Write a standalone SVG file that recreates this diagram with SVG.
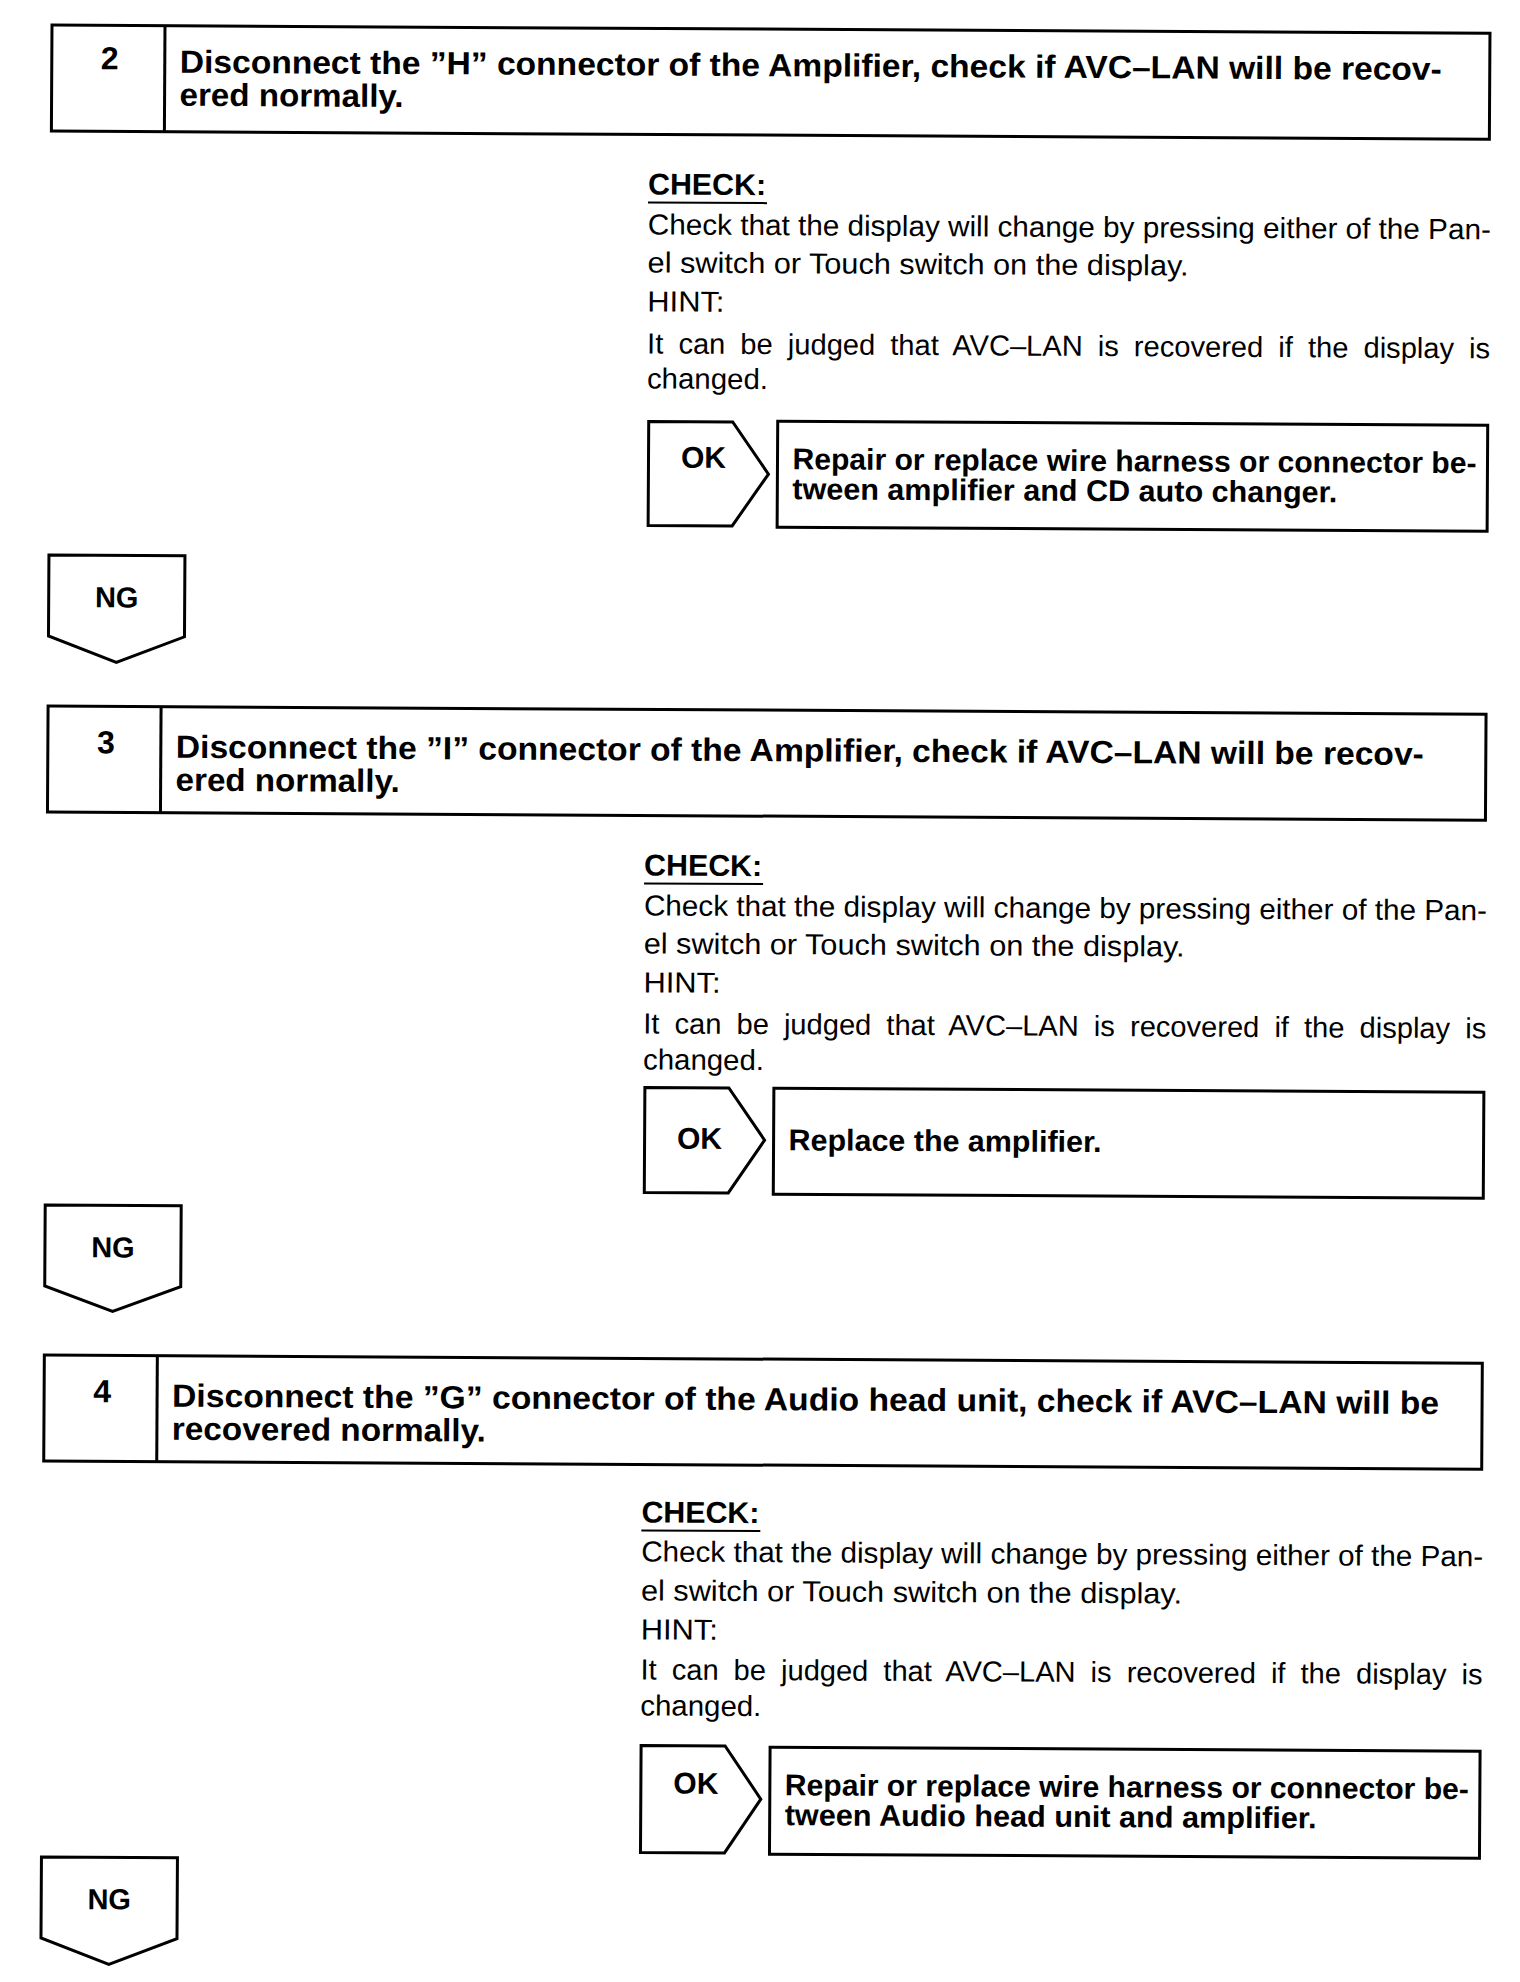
<svg xmlns="http://www.w3.org/2000/svg" width="1520" height="1982" viewBox="0 0 1520 1982">
<style>
.bg{fill:#fff}
.sh{fill:#fff;stroke:#000;stroke-width:3;stroke-linejoin:miter}
.ln{stroke:#000;stroke-width:3}
.ul{stroke:#000;stroke-width:2}
.b{font-family:"Liberation Sans",Arial,sans-serif;font-weight:bold;fill:#000}
.h{font-size:32px}
.k{font-size:30px}
.n{font-size:29px}
.r{font-family:"Liberation Sans",Arial,sans-serif;font-size:29px;fill:#000}
.m{text-anchor:middle}
</style>
<rect class="bg" x="0" y="0" width="1520" height="1982"/>
<g transform="rotate(0.33 50 25)">
<g id="connectors"></g>

<!-- STEP 2 -->
<g id="step2">
<rect class="sh" x="52" y="25" width="1438" height="106"/>
<line class="ln" x1="165" y1="25" x2="165" y2="131"/>
<text class="b h m" x="110" y="69">2</text>
<text class="b h" x="180" y="72" textLength="1262" lengthAdjust="spacingAndGlyphs">Disconnect the ”H” connector of the Amplifier, check if AVC–LAN will be recov-</text>
<text class="b h" x="180" y="105" textLength="224" lengthAdjust="spacingAndGlyphs">ered normally.</text>
</g>
<g id="check2">
<text class="b k" x="649" y="191" textLength="118" lengthAdjust="spacingAndGlyphs">CHECK:</text>
<line class="ul" x1="649" y1="199" x2="768" y2="199"/>
<text class="r" x="649" y="231" textLength="843" lengthAdjust="spacingAndGlyphs">Check that the display will change by pressing either of the Pan-</text>
<text class="r" x="649" y="269" textLength="541" lengthAdjust="spacingAndGlyphs">el switch or Touch switch on the display.</text>
<text class="r" x="649" y="308" textLength="77" lengthAdjust="spacingAndGlyphs">HINT:</text>
<text class="r" x="649" y="350" word-spacing="7" textLength="843" lengthAdjust="spacingAndGlyphs">It can be judged that AVC–LAN is recovered if the display is</text>
<text class="r" x="649" y="385" textLength="121" lengthAdjust="spacingAndGlyphs">changed.</text>
</g>
<g id="ok2">
<polygon class="sh" points="651,418 735,418 771,470 735,522 651,522"/>
<text class="b k m" x="706" y="464">OK</text>
</g>
<g id="result2">
<rect class="sh" x="780" y="417" width="710" height="106"/>
<text class="b k" x="795" y="465" textLength="684" lengthAdjust="spacingAndGlyphs">Repair or replace wire harness or connector be-</text>
<text class="b k" x="795" y="495" textLength="545" lengthAdjust="spacingAndGlyphs">tween amplifier and CD auto changer.</text>
</g>
<g id="ng2">
<polygon class="sh" points="52,555 188,555 188,636 120,662 52,636"/>
<text class="b n m" x="120" y="607">NG</text>
</g>

<!-- STEP 3 -->
<g id="step3">
<rect class="sh" x="52" y="706" width="1438" height="106"/>
<line class="ln" x1="165" y1="706" x2="165" y2="812"/>
<text class="b h m" x="110" y="753">3</text>
<text class="b h" x="180" y="757" textLength="1248" lengthAdjust="spacingAndGlyphs">Disconnect the ”I” connector of the Amplifier, check if AVC–LAN will be recov-</text>
<text class="b h" x="180" y="790" textLength="224" lengthAdjust="spacingAndGlyphs">ered normally.</text>
</g>
<g id="check3">
<text class="b k" x="649" y="872" textLength="118" lengthAdjust="spacingAndGlyphs">CHECK:</text>
<line class="ul" x1="649" y1="880" x2="768" y2="880"/>
<text class="r" x="649" y="912" textLength="843" lengthAdjust="spacingAndGlyphs">Check that the display will change by pressing either of the Pan-</text>
<text class="r" x="649" y="950" textLength="541" lengthAdjust="spacingAndGlyphs">el switch or Touch switch on the display.</text>
<text class="r" x="649" y="989" textLength="77" lengthAdjust="spacingAndGlyphs">HINT:</text>
<text class="r" x="649" y="1030" word-spacing="7" textLength="843" lengthAdjust="spacingAndGlyphs">It can be judged that AVC–LAN is recovered if the display is</text>
<text class="r" x="649" y="1066" textLength="121" lengthAdjust="spacingAndGlyphs">changed.</text>
</g>
<g id="ok3">
<polygon class="sh" points="651,1084 735,1084 771,1136 735,1189 651,1189"/>
<text class="b k m" x="706" y="1145">OK</text>
</g>
<g id="result3">
<rect class="sh" x="780" y="1084" width="710" height="106"/>
<text class="b k" x="795" y="1146" textLength="313" lengthAdjust="spacingAndGlyphs">Replace the amplifier.</text>
</g>
<g id="ng3">
<polygon class="sh" points="52,1205 188,1205 188,1286 120,1311 52,1286"/>
<text class="b n m" x="120" y="1257">NG</text>
</g>

<!-- STEP 4 -->
<g id="step4">
<rect class="sh" x="52" y="1355" width="1438" height="106"/>
<line class="ln" x1="165" y1="1355" x2="165" y2="1461"/>
<text class="b h m" x="110" y="1402">4</text>
<text class="b h" x="180" y="1406" textLength="1267" lengthAdjust="spacingAndGlyphs">Disconnect the ”G” connector of the Audio head unit, check if AVC–LAN will be</text>
<text class="b h" x="180" y="1439" textLength="314" lengthAdjust="spacingAndGlyphs">recovered normally.</text>
</g>
<g id="check4">
<text class="b k" x="650" y="1519" textLength="118" lengthAdjust="spacingAndGlyphs">CHECK:</text>
<line class="ul" x1="650" y1="1527" x2="769" y2="1527"/>
<text class="r" x="650" y="1558" textLength="842" lengthAdjust="spacingAndGlyphs">Check that the display will change by pressing either of the Pan-</text>
<text class="r" x="650" y="1597" textLength="541" lengthAdjust="spacingAndGlyphs">el switch or Touch switch on the display.</text>
<text class="r" x="650" y="1636" textLength="77" lengthAdjust="spacingAndGlyphs">HINT:</text>
<text class="r" x="650" y="1676" word-spacing="7" textLength="842" lengthAdjust="spacingAndGlyphs">It can be judged that AVC–LAN is recovered if the display is</text>
<text class="r" x="650" y="1712" textLength="121" lengthAdjust="spacingAndGlyphs">changed.</text>
</g>
<g id="ok4">
<polygon class="sh" points="651,1742 735,1742 771,1795 735,1849 651,1849"/>
<text class="b k m" x="706" y="1790">OK</text>
</g>
<g id="result4">
<rect class="sh" x="780" y="1743" width="710" height="107"/>
<text class="b k" x="795" y="1791" textLength="684" lengthAdjust="spacingAndGlyphs">Repair or replace wire harness or connector be-</text>
<text class="b k" x="795" y="1821" textLength="532" lengthAdjust="spacingAndGlyphs">tween Audio head unit and amplifier.</text>
</g>
<g id="ng4">
<polygon class="sh" points="52,1857 188,1857 188,1938 120,1964 52,1938"/>
<text class="b n m" x="120" y="1909">NG</text>
</g>
</g>
</svg>
